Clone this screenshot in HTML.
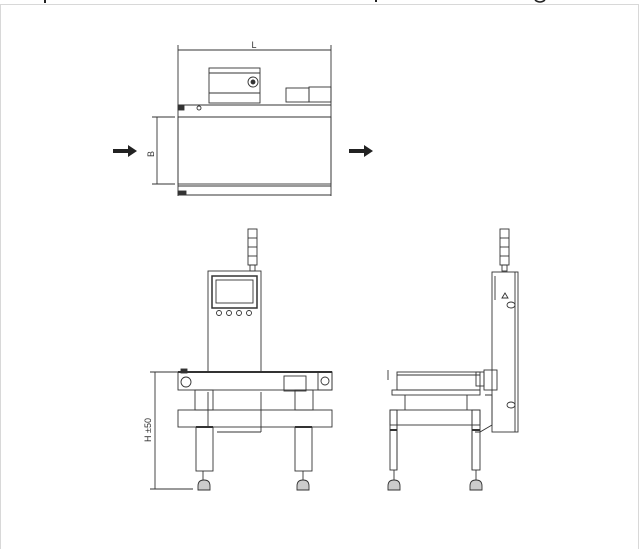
<!DOCTYPE html>
<html><head><meta charset="utf-8"><style>
html,body{margin:0;padding:0;background:#fff;}
svg{display:block;}
</style></head><body>
<svg width="641" height="549" viewBox="0 0 641 549" xmlns="http://www.w3.org/2000/svg" font-family="Liberation Sans, sans-serif">
<rect x="0.5" y="4.5" width="638" height="560" fill="#fff" stroke="#d8d8d8" stroke-width="1"/>
<rect x="44" y="0" width="2" height="3" fill="#222"/>
<rect x="375" y="0" width="2" height="2" fill="#222"/>
<path d="M535 0 q5 4 10 0" fill="none" stroke="#222" stroke-width="1.5"/>
<g fill="none" stroke="#333" stroke-width="0.9">
<!-- TOP VIEW -->
<line x1="178" y1="45" x2="178" y2="196"/>
<line x1="331" y1="45" x2="331" y2="196"/>
<line x1="178" y1="50" x2="331" y2="50"/>
<rect x="209" y="68" width="51" height="35"/>
<line x1="209" y1="73" x2="260" y2="73"/>
<line x1="209" y1="93" x2="260" y2="93"/>
<circle cx="253" cy="82" r="5"/>
<circle cx="253" cy="82" r="2" fill="#333"/>
<rect x="286" y="88" width="23" height="14"/>
<rect x="309" y="87" width="22" height="15"/>
<line x1="178" y1="105" x2="331" y2="105"/>
<line x1="178" y1="117" x2="331" y2="117"/>
<rect x="178" y="117" width="153" height="67"/>
<line x1="178" y1="195" x2="331" y2="195"/>
<line x1="178" y1="186" x2="331" y2="186"/>
<rect x="178" y="105" width="6" height="5" fill="#333"/>
<rect x="178" y="191" width="8" height="4" fill="#333"/>
<circle cx="199" cy="108" r="2"/>
<line x1="152" y1="117" x2="175" y2="117"/>
<line x1="152" y1="184" x2="175" y2="184"/>
<line x1="157" y1="117" x2="157" y2="184"/>
<!-- FRONT VIEW -->
<rect x="248" y="229" width="9" height="36"/>
<line x1="248" y1="238" x2="257" y2="238"/><line x1="248" y1="247" x2="257" y2="247"/><line x1="248" y1="256" x2="257" y2="256"/>
<rect x="250" y="265" width="5" height="6"/>
<rect x="208" y="271" width="53" height="101"/>
<line x1="208" y1="392" x2="208" y2="427"/><line x1="261" y1="392" x2="261" y2="432"/>
<line x1="217" y1="432" x2="261" y2="432"/>
<rect x="212" y="276" width="45" height="32" stroke-width="1.5"/>
<rect x="216" y="280" width="37" height="23"/>
<circle cx="219" cy="313" r="2.5"/><circle cx="229" cy="313" r="2.5"/><circle cx="239" cy="313" r="2.5"/><circle cx="249" cy="313" r="2.5"/>
<rect x="178" y="372" width="154" height="18"/>
<line x1="178" y1="372" x2="332" y2="372" stroke-width="2"/>
<rect x="181" y="369" width="6" height="4" fill="#333"/>
<circle cx="186" cy="382" r="5"/>
<rect x="284" y="376" width="22" height="15"/>
<rect x="318" y="372" width="14" height="18"/>
<circle cx="325" cy="381" r="4"/>
<rect x="195" y="390" width="18" height="20"/>
<rect x="295" y="390" width="18" height="20"/>
<rect x="178" y="410" width="154" height="17"/>
<rect x="196" y="427" width="17" height="44"/>
<rect x="295" y="427" width="17" height="44"/>
<line x1="196" y1="427" x2="213" y2="427" stroke-width="2"/>
<line x1="295" y1="427" x2="312" y2="427" stroke-width="2"/>
<line x1="203" y1="471" x2="203" y2="480"/><line x1="303" y1="471" x2="303" y2="480"/>
<path d="M198 490 L198 486 Q198 480 204 480 Q210 480 210 486 L210 490 Z" fill="#ccc"/>
<path d="M297 490 L297 486 Q297 480 303 480 Q309 480 309 486 L309 490 Z" fill="#ccc"/>
<line x1="150" y1="372" x2="178" y2="372"/>
<line x1="150" y1="489" x2="193" y2="489"/>
<line x1="155" y1="372" x2="155" y2="489"/>
<!-- SIDE VIEW -->
<rect x="500" y="229" width="9" height="36"/>
<line x1="500" y1="238" x2="509" y2="238"/><line x1="500" y1="247" x2="509" y2="247"/><line x1="500" y1="256" x2="509" y2="256"/>
<rect x="502" y="265" width="5" height="6"/>
<rect x="492" y="272" width="26" height="160"/>
<line x1="515" y1="272" x2="515" y2="432"/>
<line x1="495" y1="276" x2="495" y2="300"/>
<path d="M502 298 l3 -5 l3 5 z"/>
<ellipse cx="511" cy="305" rx="4" ry="3"/>
<ellipse cx="511" cy="405" rx="4" ry="3"/>
<rect x="397" y="372" width="83" height="18"/>
<line x1="397" y1="375" x2="480" y2="375"/>
<rect x="392" y="390" width="88" height="5"/>
<line x1="388" y1="370" x2="388" y2="380"/>
<rect x="476" y="372" width="8" height="14"/>
<rect x="484" y="370" width="13" height="20"/>
<path d="M485 395 L492 395 L492 425 L480 432 L475 432"/>
<line x1="405" y1="395" x2="405" y2="410"/><line x1="467" y1="395" x2="467" y2="410"/>
<rect x="390" y="410" width="90" height="15"/>
<line x1="397" y1="410" x2="397" y2="470"/><line x1="472" y1="410" x2="472" y2="470"/>
<rect x="390" y="410" width="7" height="60"/>
<rect x="472" y="410" width="8" height="60"/>
<line x1="390" y1="430" x2="397" y2="430" stroke-width="2"/>
<line x1="472" y1="430" x2="480" y2="430" stroke-width="2"/>
<line x1="394" y1="470" x2="394" y2="480"/><line x1="476" y1="470" x2="476" y2="480"/>
<path d="M388 490 L388 486 Q388 480 394 480 Q400 480 400 486 L400 490 Z" fill="#ccc"/>
<path d="M470 490 L470 486 Q470 480 476 480 Q482 480 482 486 L482 490 Z" fill="#ccc"/>
</g>
<!-- arrows -->
<path d="M113 149 L128 149 L128 145 L137 151 L128 157 L128 153 L113 153 Z" fill="#222"/>
<path d="M349 149 L364 149 L364 145 L373 151 L364 157 L364 153 L349 153 Z" fill="#222"/>
<text x="254" y="48" font-size="9" text-anchor="middle" fill="#333">L</text>
<text x="0" y="0" font-size="9" fill="#333" transform="translate(154,154) rotate(-90)" text-anchor="middle">B</text>
<text x="0" y="0" font-size="9" fill="#333" transform="translate(151,430) rotate(-90)" text-anchor="middle">H ±50</text>
</svg>
</body></html>
